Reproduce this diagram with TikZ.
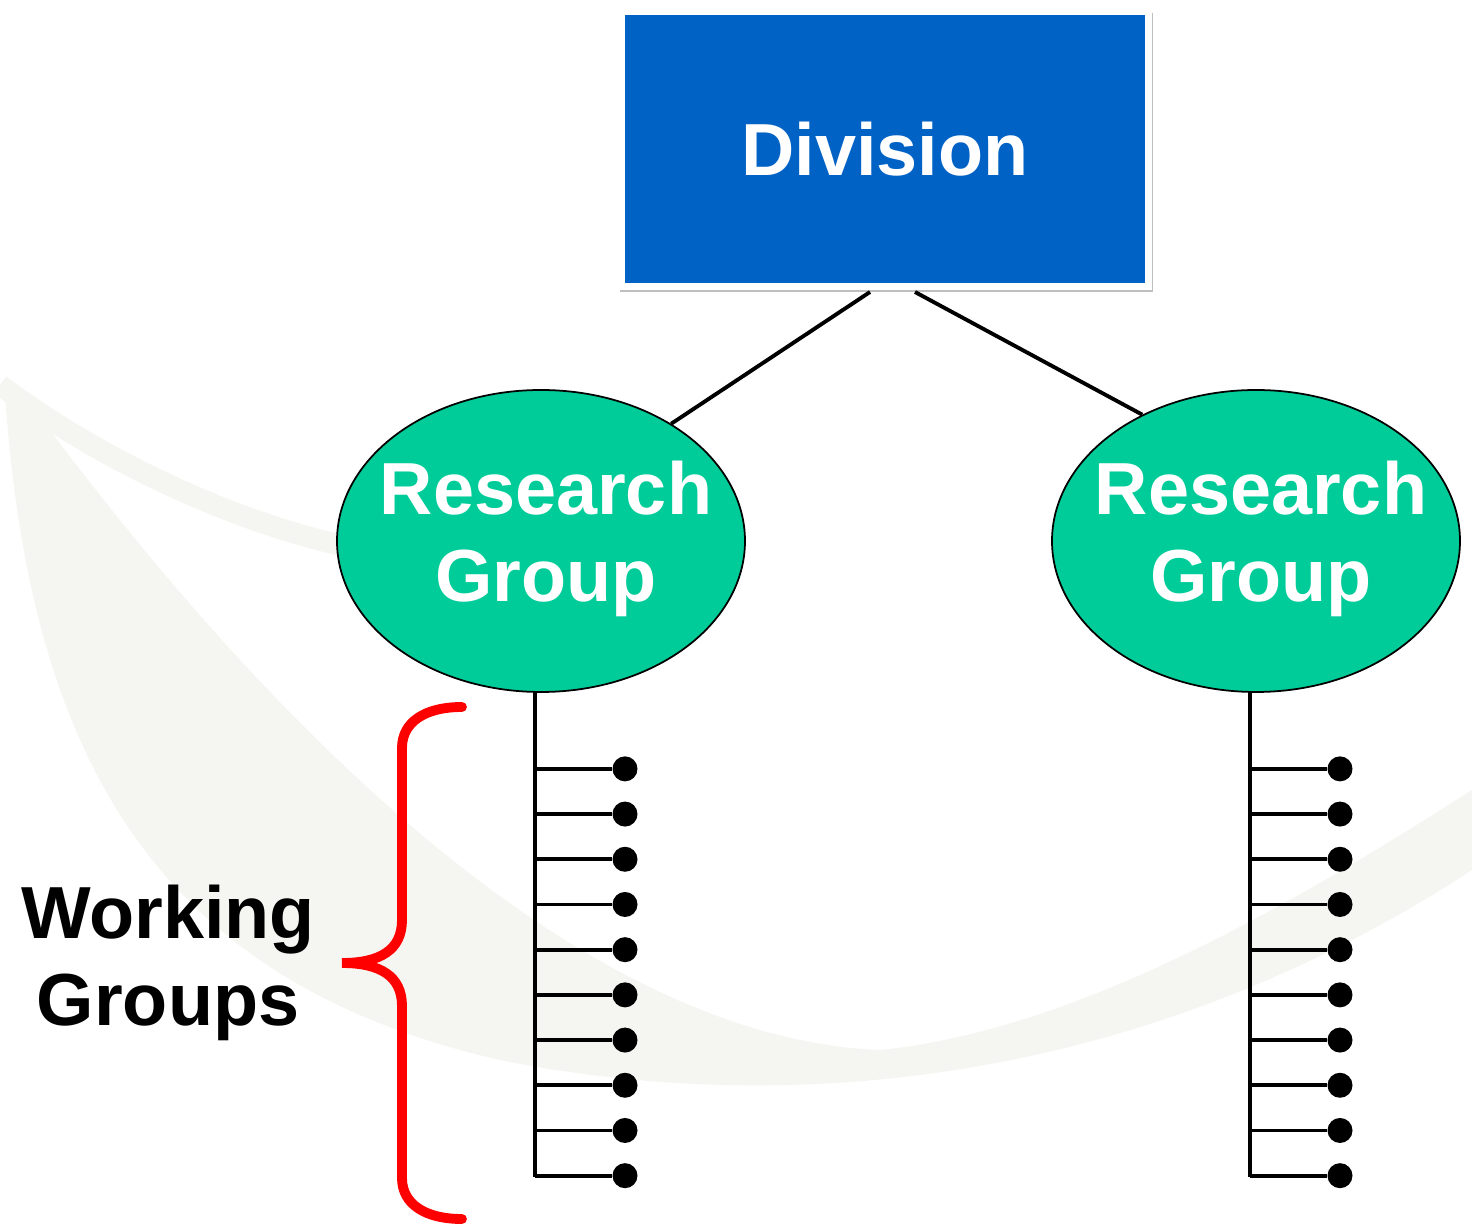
\documentclass[tikz,border=0pt]{standalone}
\usepackage{fontspec}
\setmainfont{Liberation Sans}
\usepackage{tikz}
\usetikzlibrary{shapes.geometric}
\usetikzlibrary{shadows}
\usetikzlibrary{calc}
\definecolor{divblue}{RGB}{0,98,196}
\definecolor{rgfill}{RGB}{0,204,153}
\definecolor{wmark}{RGB}{245,246,241}
\newcommand{\bigbf}{\fontsize{21}{24.7}\selectfont\bfseries}
\newcommand{\ladder}[2] % research group node, prefix for names
{
	% trunk below the group
	\coordinate (#2top) at ($(#1.south)+(-0.06,0)$);
	\coordinate (#2end) at ($(#2top)+(0,-4.84)$);
	\draw[trunk] (#2top) -- (#2end);
	% ten working groups
	\foreach \i in {1,...,10}
	{
		\coordinate (#2t\i) at ($(#2top)+(0,{-0.76-0.452*(\i-1)})$);
		\node[wgdot] (#2d\i) at ($(#2t\i)+(0.9,0)$) {};
		\draw[twig] (#2t\i) -- (#2d\i);
	}
}

\begin{document}
\begin{tikzpicture}[
	divbox/.style={rectangle, fill=divblue, draw=white, line width=2pt, minimum width=5.27cm, minimum height=2.75cm, text=white, font=\bigbf, general shadow={fill=black!25, shadow xshift=0.015cm, shadow yshift=-0.035cm, shadow scale=1.012}},
	rgroup/.style={ellipse, draw=black, line width=0.5pt, fill=rgfill, minimum width=4.08cm, minimum height=3.02cm, inner sep=0pt},
	rgtext/.style={text=white, align=center, font=\bigbf, xshift=0.05cm, yshift=0.02cm},
	link/.style={line width=1.1pt},
	trunk/.style={line width=1.4pt},
	twig/.style={line width=1.1pt},
	wgdot/.style={circle, fill=black, inner sep=0pt, minimum size=0.25cm},
	brace/.style={red, line width=2.8pt, line cap=round}]
	% page: 1472 x 1225 px, 1px = 0.1mm
	\useasboundingbox (0,0) rectangle (14.72,-12.25);
	\fill[white] (0,0) rectangle (14.72,-12.25);
	% faint leaf in the background
	\fill[wmark] (0.05,-3.95) .. controls (0.3,-7.5) and (1.5,-9.8) .. (5.0,-10.6) .. controls (8.0,-11.2) and (11.5,-10.8) .. (14.72,-8.7) -- (14.72,-7.9) .. controls (13.0,-9.0) and (10.8,-10.3) .. (8.8,-10.5) .. controls (6.2,-10.4) and (3.2,-8.0) .. (0.2,-3.9) -- cycle;
	\draw[wmark, line width=6pt] (0,-3.85) .. controls (1.0,-4.6) and (2.3,-5.2) .. (3.4,-5.45);
	
	\node[divbox] (div) at (8.85,-1.49) {Division};
	\node[rgroup, label={[rgtext]center:Research\\Group}] (rgl) at (5.41,-5.41) {};
	\node[rgroup, label={[rgtext]center:Research\\Group}] (rgr) at (12.56,-5.41) {};
	
	\draw[link] ($(div.south)+(-0.15,-0.02)$) -- (rgl.42.3);
	\draw[link] ($(div.south)+(0.30,-0.02)$) -- (rgr.132.8);
	
	\ladder{rgl}{l};
	\ladder{rgr}{r};
	
	% brace round the left working groups
	\draw[brace] (4.62,-7.07) .. controls (4.25,-7.07) and (4.02,-7.22) .. (4.02,-7.48) -- (4.02,-9.2) .. controls (4.02,-9.5) and (3.8,-9.63) .. (3.42,-9.63) .. controls (3.8,-9.63) and (4.02,-9.76) .. (4.02,-10.06) -- (4.02,-11.78) .. controls (4.02,-12.04) and (4.25,-12.19) .. (4.62,-12.19);
	\node[align=center, font=\bigbf] (wg) at (1.68,-9.63) {Working\\Groups};
	
\end{tikzpicture}
\end{document}
